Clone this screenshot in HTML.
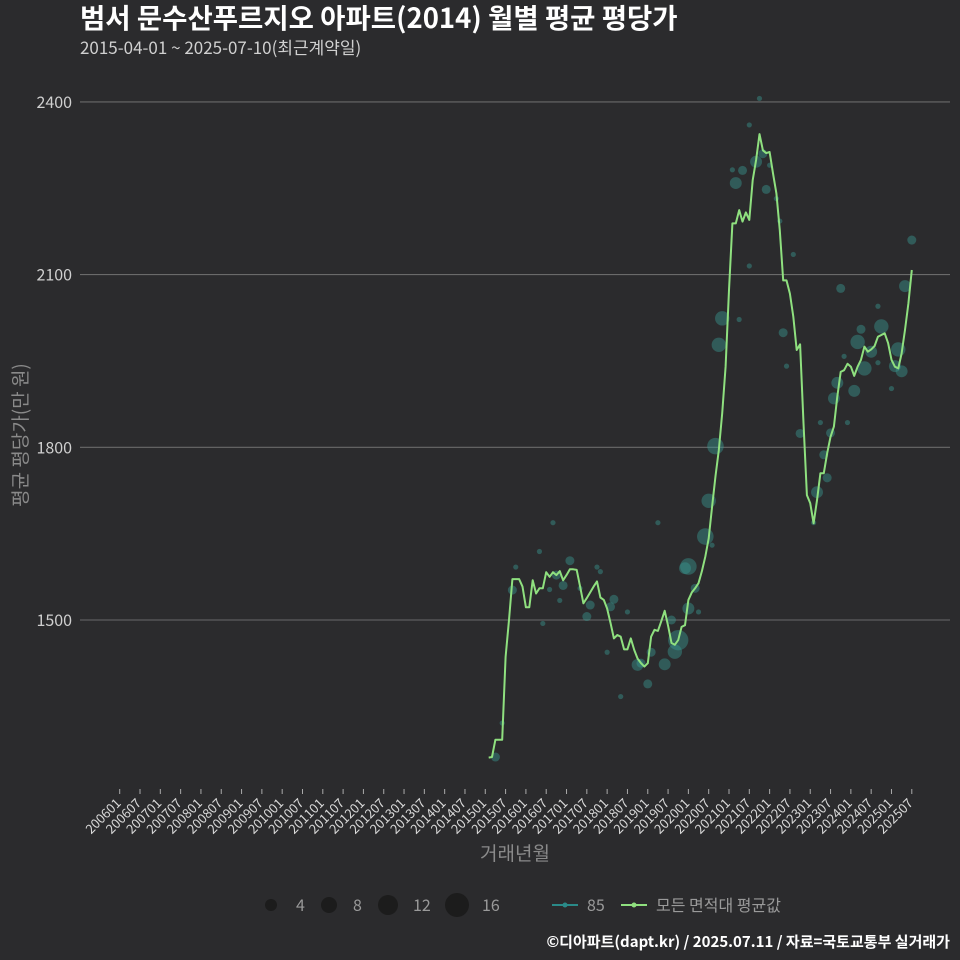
<!DOCTYPE html>
<html><head><meta charset="utf-8">
<style>
html,body{margin:0;padding:0;background:#2b2b2d;}
body{position:relative;width:960px;height:960px;overflow:hidden;}
svg{display:block;font-family:"Noto Sans CJK KR","Liberation Sans",sans-serif;}
#ytitle{position:absolute;left:20px;top:435px;width:200px;height:24px;margin-left:-100px;margin-top:-12px;transform:rotate(-90deg);text-align:center;color:#8a8a8a;font-size:19px;line-height:24px;font-family:"Noto Sans CJK KR",sans-serif;white-space:nowrap;}
</style></head>
<body>
<svg id="chart" width="960" height="960" viewBox="0 0 960 960">
<rect x="0" y="0" width="960" height="960" fill="#2b2b2d"/>
<text x="80" y="28" fill="#ffffff" font-size="27.5" font-weight="bold">범서 문수산푸르지오 아파트(2014) 월별 평균 평당가</text>
<text x="80" y="54" fill="#d0d0d0" font-size="17">2015-04-01 ~ 2025-07-10(최근계약일)</text>
<g id="grid"></g>
<g id="yticks"></g>
<g id="xticks"></g>
<g id="bubbles"></g>
<g id="line"></g>
<text x="515" y="860" text-anchor="middle" fill="#8a8a8a" font-size="19">거래년월</text>
<g>
<circle cx="271" cy="905" r="6" fill="#1c1c1c"/>
<text x="296" y="911" fill="#9a9a9a" font-size="16">4</text>
<circle cx="329" cy="905" r="8" fill="#1c1c1c"/>
<text x="353" y="911" fill="#9a9a9a" font-size="16">8</text>
<circle cx="388" cy="905" r="10" fill="#1c1c1c"/>
<text x="413" y="911" fill="#9a9a9a" font-size="16">12</text>
<circle cx="457" cy="905" r="12" fill="#1c1c1c"/>
<text x="482" y="911" fill="#9a9a9a" font-size="16">16</text>
</g>
<g>
<line x1="552" y1="905" x2="578" y2="905" stroke="#2a8a88" stroke-width="2"/>
<circle cx="565" cy="905" r="2.5" fill="#2a8a88"/>
<text x="587" y="911" fill="#9a9a9a" font-size="16">85</text>
<line x1="621" y1="905" x2="647" y2="905" stroke="#8fe07f" stroke-width="2"/>
<circle cx="634" cy="905" r="2.5" fill="#8fe07f"/>
<text x="656" y="911" fill="#9a9a9a" font-size="16">모든 면적대 평균값</text>
</g>
<text x="950" y="947" text-anchor="end" fill="#ffffff" font-size="15" font-weight="bold">©디아파트(dapt.kr) / 2025.07.11 / 자료=국토교통부 실거래가</text>
</svg>
<div id="ytitle">평균 평당가(만 원)</div>
<script>
// month offsets k from 2015-01 (k=1 -> 2015-02)
const lineValues = [1261,1262,1292,1292,1292,1436,1500,1571,1571,1571,1558,1522,1522,1569,1546,1555,1555,1583,1575,1583,1578,1585,1569,1578,1588,1588,1587,1558,1529,1538,1548,1558,1567,1539,1535,1520,1495,1468,1474,1471,1449,1449,1468,1448,1433,1425,1419,1425,1471,1483,1481,1498,1516,1490,1460,1457,1465,1488,1491,1535,1548,1555,1564,1585,1610,1642,1697,1750,1795,1859,1940,2073,2189,2189,2212,2192,2208,2195,2264,2299,2344,2316,2311,2313,2276,2241,2177,2090,2090,2067,2027,1969,1979,1842,1717,1703,1668,1708,1755,1755,1790,1818,1836,1888,1931,1934,1945,1940,1924,1940,1952,1975,1966,1970,1976,1992,1995,1998,1981,1952,1940,1937,1963,2004,2050,2108];
const bubbleMonths = [3,5,8,9,16,20,19,22,17,21,23,25,28,33,34,30,31,38,37,42,36,40,45,46,49,53,48,51,55,57,56,60,62,63,60,59,65,67,66,68,69,70,75,78,74,76,73,78,81,80,82,84,83,86,87,91,88,89,93,97,98,101,100,102,99,103,104,105,107,106,109,110,111,112,114,116,116,117,120,121,122,123,124,126];
const bubbleValues = [1262,1321,1552,1592,1619,1669,1553,1534,1494,1578,1560,1603,1555,1592,1584,1506,1526,1536,1523,1514,1444,1367,1422,1425,1444,1423,1389,1669,1500,1465,1445,1520,1555,1514,1593,1590,1645,1630,1707,1802,1978,2024,2022,2115,2259,2281,2282,2360,2406,2296,2310,2290,2248,2232,2193,2135,1999,1941,1824,1669,1722,1747,1787,1825,1843,1885,1912,2076,1843,1958,1898,1983,2005,1937,1966,1947,2045,2010,1902,1941,1970,1932,2080,2160];
const bubbleCounts = [2,1,2,1,1,1,1,1,1,2,2,2,1,1,1,2,2,2,2,1,1,1,3,2,2,3,2,1,2,7,4,3,2,1,5,3,5,1,4,5,4,4,1,1,3,2,1,1,1,3,2,1,2,1,1,1,2,1,2,1,3,2,2,2,1,3,3,2,1,1,3,4,2,4,3,1,1,4,1,3,4,3,3,2];
const xTickLabels = [];
for (let yr = 2006; yr <= 2025; yr++) { xTickLabels.push(yr + "01"); xTickLabels.push(yr + "07"); }
const yTickValues = [1500,1800,2100,2400];

const NS = "http://www.w3.org/2000/svg";
const X0 = 119.7, PER_MONTH = 3.385, BASE_MONTH = 108;
function xMonth(m){ return X0 + m * PER_MONTH; }
function xK(k){ return xMonth(BASE_MONTH + k); }
function yV(v){ return 620 - (v - 1500) * (172.7 / 300); }
function rN(n){ return 2.6 + (Math.sqrt(n) - 1) * 4.6; }
function mk(tag, attrs, parent){ const e = document.createElementNS(NS, tag); for (const a in attrs) e.setAttribute(a, attrs[a]); parent.appendChild(e); return e; }

const grid = document.getElementById("grid");
const yt = document.getElementById("yticks");
yTickValues.forEach(v => {
  const l = mk("line", {x1:80, x2:950, y1:yV(v), y2:yV(v), stroke:"#6a6a6a", "stroke-width":1.1}, grid);
  
  
  const t = mk("text", {x:72, y:yV(v)+6, "text-anchor":"end", fill:"#cfcfcf", "font-size":16}, yt);
  t.textContent = v;
  
  
});
const xt = document.getElementById("xticks");
xTickLabels.forEach((lab, i) => {
  const x = xMonth(i * 6);
  const tk = mk("line", {x1:x, x2:x, y1:789, y2:794, stroke:"#aaaaaa", "stroke-width":1}, xt);
  
  
  const t = mk("text", {x:0, y:0, transform:`translate(${x+2},${804}) rotate(-45)`, "text-anchor":"end", fill:"#d8d8d8", "font-size":13}, xt);
  t.textContent = lab;
  
  
});
const bg = document.getElementById("bubbles");
bubbleMonths.forEach((k, i) => {
  const c = mk("circle", {cx:xK(k), cy:yV(bubbleValues[i]), r:rN(bubbleCounts[i]), fill:"#3a9e96", "fill-opacity":0.42}, bg);
  
  
});
const pts = lineValues.map((v, i) => xK(i + 1).toFixed(1) + "," + yV(v).toFixed(1)).join(" ");
const pl = mk("polyline", {points:pts, fill:"none", stroke:"#8fe07f", "stroke-width":2, "stroke-linejoin":"round"}, document.getElementById("line"));


</script>
</body></html>
